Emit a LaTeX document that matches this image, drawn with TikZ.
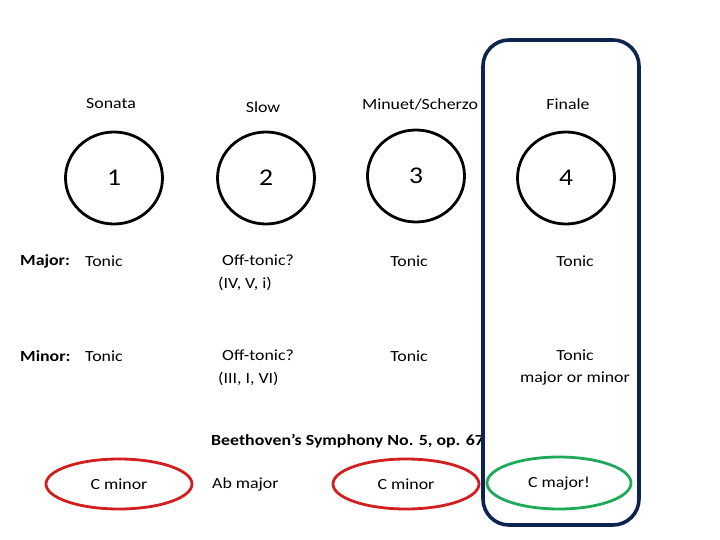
\documentclass[tikz,border=0pt]{standalone}
\usepackage{fontspec}
\setmainfont{Carlito}[FakeStretch=1.15]
\usetikzlibrary{shapes.geometric}
\begin{document}
\begin{tikzpicture}[x=1pt,y=-1pt,
  txt/.style={inner sep=0pt,font=\fontsize{15.5}{22.5}\selectfont},
  bld/.style={txt,font=\fontsize{15.5}{22.5}\selectfont\bfseries},
  mov/.style={draw=black,line width=2.8pt,ellipse,minimum width=97pt,minimum height=92pt,inner sep=0pt,font=\fontsize{24}{28}\selectfont},
  key/.style={line width=2.8pt,ellipse,minimum width=146pt,minimum height=50pt,inner sep=0pt,font=\fontsize{15.5}{20}\selectfont}]
\useasboundingbox (0,0) rectangle (720,540);
\fill[white] (0,0) rectangle (720,540);
% labels
\node[txt] (sonata) at (111,104) {Sonata};
\node[txt] (slow) at (263,107) {Slow};
\node[txt] (minuet) at (420,104) {Minuet/Scherzo};
\node[txt] (finale) at (568,104) {Finale};
% movements
\node[mov] (m1) at (114,178) {1};
\node[mov] (m2) at (266,178) {2};
\node[mov] (m3) at (416,176) {3};
\node[mov] (m4) at (566,178) {4};
% major row
\node[bld,anchor=west] (major) at (20,261) {Major:};
\node[txt,anchor=west] (maj1) at (85,261) {Tonic};
\node[txt,anchor=west,align=left] (maj2) at (218,272.5) {\ Off-tonic?\\(IV, V, i)};
\node[txt] (maj3) at (409,261) {Tonic};
\node[txt] (maj4) at (575,261) {Tonic};
% minor row
\node[bld,anchor=west] (minor) at (20,356) {Minor:};
\node[txt,anchor=west] (min1) at (85,356) {Tonic};
\node[txt,anchor=west,align=left] (min2) at (218,367.5) {\ Off-tonic?\\(III, I, VI)};
\node[txt] (min3) at (409,356) {Tonic};
\node[txt,align=center] (min4) at (575,367.5) {Tonic\\major or minor};
% Beethoven
\node[bld,anchor=west] (beet) at (211,441) {Beethoven’s Symphony No. 5, op. 67};
\node[key,draw={rgb,255:red,210;green,30;blue,30}] (k1) at (119,484) {C minor};
\node[txt,anchor=west] (k2) at (212,484) {Ab major};
\node[key,draw={rgb,255:red,210;green,30;blue,30}] (k3) at (406,484) {C minor};
\node[key,draw={rgb,255:red,30;green,170;blue,90},minimum width=144pt,minimum height=52pt] (k4) at (559,483) {C major!};
% finale frame
\draw[line width=3.6pt,draw={rgb,255:red,14;green,36;blue,80},rounded corners=26pt] (483,40) rectangle (639,525);
\end{tikzpicture}
\end{document}
